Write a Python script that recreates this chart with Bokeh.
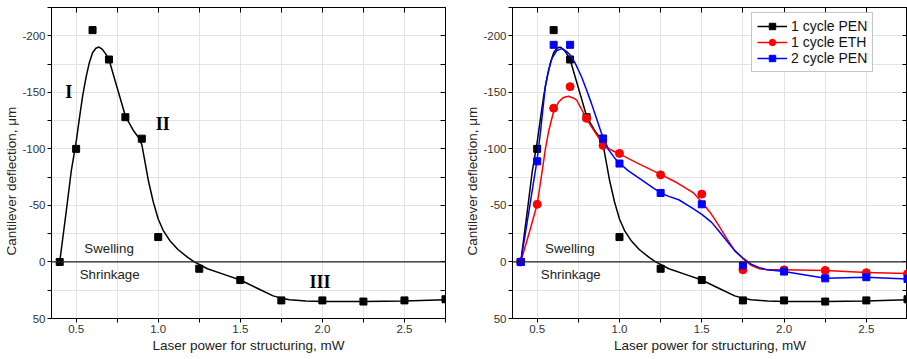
from bokeh.plotting import figure
from bokeh.layouts import row
from bokeh.models import (Range1d, LinearAxis, FixedTicker, PrintfTickFormatter,
                          CustomJSTickFormatter, Span, Legend, LegendItem, Label, Title)
from bokeh.embed import file_html
from bokeh.resources import INLINE

# ---------------- data ----------------
power = [0.4, 0.5, 0.6, 0.7, 0.8, 0.9, 1.0, 1.25, 1.5, 1.75, 2.0, 2.25, 2.5, 2.75]
pen1 = [0, -100, -205, -179, -128, -109, -22, 6, 16, 34, 34, 35, 34, 33]

eth1_x = [0.4, 0.5, 0.6, 0.7, 0.8, 0.9, 1.0, 1.25, 1.5, 1.75, 2.0, 2.25, 2.5, 2.75]
eth1 = [0, -51, -136, -155, -127, -103, -96, -77, -60, 7, 7, 7.5, 9.5, 10.5]

pen2_x = [0.4, 0.5, 0.6, 0.7, 0.9, 1.0, 1.25, 1.5, 1.75, 2.0, 2.25, 2.5, 2.75]
pen2 = [0, -89, -192, -192, -109, -87, -61, -51, 3, 8.5, 14.5, 13.5, 15]

# fitted (smoothed) curves
fit_pen1_x = [0.40, 0.44, 0.47, 0.50, 0.52, 0.54, 0.56, 0.58, 0.60, 0.62, 0.64,
              0.66, 0.68, 0.70, 0.75, 0.80, 0.85, 0.88, 0.90, 0.92, 0.94, 0.97,
              1.00, 1.03, 1.07, 1.12, 1.18, 1.22, 1.30, 1.40, 1.50, 1.60, 1.70,
              1.75, 1.80, 1.90, 2.00, 2.25, 2.50, 2.75]
fit_pen1_y = [0, -45, -80, -106, -127, -147, -163, -176, -185, -189, -190,
              -188, -184, -179, -154, -129, -116, -110, -104, -88, -72, -53,
              -38, -28, -19, -11, -4, 0, 6, 11, 16, 23, 30,
              32, 33.5, 34.5, 35, 35, 34.5, 33.5]

fit_eth1_x = [0.40, 0.45, 0.50, 0.53, 0.55, 0.57, 0.60, 0.63, 0.66, 0.69, 0.72,
              0.74, 0.77, 0.80, 0.85, 0.90, 0.95, 1.00, 1.10, 1.20, 1.25, 1.35,
              1.45, 1.50, 1.55, 1.60, 1.65, 1.70, 1.75, 1.80, 1.85, 1.90, 2.00,
              2.25, 2.50, 2.75]
fit_eth1_y = [0, -25, -51, -80, -100, -116, -133, -141.5, -145.5, -146.5, -145,
              -143, -135, -126, -115, -104, -99, -95.5, -88, -81, -77.5, -70,
              -61, -53, -44, -33, -21, -10, -3, 3, 6, 7, 7,
              7.6, 9.4, 10.3]

fit_pen2_x = [0.40, 0.45, 0.50, 0.52, 0.55, 0.57, 0.59, 0.62, 0.65, 0.68, 0.70,
              0.73, 0.77, 0.80, 0.83, 0.86, 0.89, 0.93, 0.97, 1.00, 1.05, 1.11,
              1.20, 1.25, 1.30, 1.36, 1.45, 1.50, 1.56, 1.60, 1.65, 1.70, 1.75,
              1.80, 1.85, 1.90, 2.00, 2.25, 2.50, 2.75]
fit_pen2_y = [0, -45, -91, -115, -156, -170, -180, -187, -188.6, -186, -183,
              -176, -163.5, -152, -140, -127, -114, -100, -92, -87.5, -81, -75,
              -66, -61, -58, -55, -47, -42, -35, -28, -19, -10, -3.5,
              2, 5, 7, 8.5, 14.4, 13.5, 15]

x_major = [0.5, 1.0, 1.5, 2.0, 2.5]
x_minor = [0.75, 1.25, 1.75, 2.25, 2.75]
y_major = [-200, -150, -100, -50, 0, 50]
y_minor = [-225, -175, -125, -75, -25, 25]

FONT = "Liberation Sans"
SERIF = "Liberation Serif"


def make_fig(width, mb_left, mb_right):
    p = figure(width=width, height=359,
               x_range=Range1d(0.35, 2.75), y_range=Range1d(50, -225),
               output_backend="svg", toolbar_location=None,
               min_border_left=mb_left, min_border_right=mb_right,
               min_border_top=7, min_border_bottom=41)
    p.outline_line_color = "black"
    p.outline_line_width = 1
    p.background_fill_color = "white"
    p.border_fill_color = "white"

    xt = FixedTicker(ticks=x_major, minor_ticks=x_minor)
    yt = FixedTicker(ticks=y_major, minor_ticks=y_minor)

    xa = p.xaxis[0]
    xa.ticker = xt
    xa.formatter = PrintfTickFormatter(format="%.1f")
    xa.axis_label = "Laser power for structuring, mW"
    ya = p.yaxis[0]
    ya.ticker = yt
    ya.formatter = PrintfTickFormatter(format="%d")

    for ax in (xa, ya):
        ax.axis_line_color = "black"
        ax.major_tick_line_color = "black"
        ax.minor_tick_line_color = "black"
        ax.major_tick_in = 0
        ax.major_tick_out = 4
        ax.minor_tick_in = 0
        ax.minor_tick_out = 4
        ax.major_label_text_font = FONT
        ax.major_label_text_font_size = "11.5px"
        ax.major_label_text_color = "#333333"
        ax.major_label_standoff = 2
        ax.axis_label_text_font = FONT
        ax.axis_label_text_font_size = "13.5px"
        ax.axis_label_text_font_style = "normal"
        ax.axis_label_text_color = "#222222"
        ax.axis_label_standoff = 2

    # y-axis title, sitting a little below the frame centre as in the reference
    ytitle = Title(text="Cantilever deflection, μm", align="left", offset=63,
                   text_font=FONT, text_font_size="13.5px", text_font_style="normal",
                   text_color="#222222", standoff=2)
    p.add_layout(ytitle, "left")

    # mirrored axes (ticks inside, no labels)
    top = LinearAxis(ticker=FixedTicker(ticks=x_major, minor_ticks=x_minor),
                     formatter=CustomJSTickFormatter(code="return '';"))
    right = LinearAxis(ticker=FixedTicker(ticks=y_major, minor_ticks=y_minor),
                       formatter=CustomJSTickFormatter(code="return '';"))
    for ax in (top, right):
        ax.axis_line_color = "black"
        ax.major_tick_in = 5
        ax.major_tick_out = 0
        ax.minor_tick_in = 5
        ax.minor_tick_out = 0
        ax.major_label_standoff = 0
        ax.major_label_text_font_size = "1px"
    p.add_layout(top, "above")
    p.add_layout(right, "right")

    for g in (p.xgrid[0], p.ygrid[0]):
        g.grid_line_color = "#e3e3e3"
        g.minor_grid_line_color = "#e3e3e3"
        g.grid_line_width = 1
        g.minor_grid_line_width = 1
    p.xgrid[0].ticker = xt
    p.ygrid[0].ticker = yt

    p.add_layout(Span(location=0, dimension="width", line_color="#222222", line_width=1.2))
    return p


def add_text(p, x, y, text, size, font=FONT, style="normal", align="left", color="#222222"):
    p.add_layout(Label(x=x, y=y, text=text, text_font=font, text_font_size=size,
                       text_font_style=style, text_align=align, text_baseline="middle",
                       text_color=color))


# ---------------- left panel ----------------
p1 = make_fig(460, 49, 15)
p1.line(fit_pen1_x, fit_pen1_y, line_color="black", line_width=1.5)
p1.scatter(power, pen1, marker="square", size=7, fill_color="black", line_color="black")
add_text(p1, 0.55, -11.5, "Swelling", "13.3px")
add_text(p1, 0.522, 11, "Shrinkage", "13.3px")
add_text(p1, 0.455, -150, "I", "18px", SERIF, "bold", "center", "black")
add_text(p1, 1.028, -122, "II", "18px", SERIF, "bold", "center", "black")
add_text(p1, 1.986, 17.5, "III", "18px", SERIF, "bold", "center", "black")

# ---------------- right panel ----------------
p2 = make_fig(447, 52, 0)
l_k = p2.line(fit_pen1_x, fit_pen1_y, line_color="black", line_width=1.5)
s_k = p2.scatter(power, pen1, marker="square", size=7, fill_color="black", line_color="black")
l_r = p2.line(fit_eth1_x, fit_eth1_y, line_color="#ff0000", line_width=1.5)
s_r = p2.scatter(eth1_x, eth1, marker="circle", size=8, fill_color="#ff0000", line_color="#ff0000")
l_b = p2.line(fit_pen2_x, fit_pen2_y, line_color="#0000ff", line_width=1.5)
s_b = p2.scatter(pen2_x, pen2, marker="square", size=7, fill_color="#0000ff", line_color="#0000ff")
add_text(p2, 0.548, -11.5, "Swelling", "13.3px")
add_text(p2, 0.522, 11, "Shrinkage", "13.3px")

legend = Legend(items=[
    LegendItem(label="1 cycle PEN", renderers=[l_k, s_k]),
    LegendItem(label="1 cycle ETH", renderers=[l_r, s_r]),
    LegendItem(label="2 cycle PEN", renderers=[l_b, s_b]),
], location=(239, 246))
legend.label_text_font = FONT
legend.label_text_font_size = "14px"
legend.label_text_color = "#111111"
legend.glyph_width = 30
legend.glyph_height = 16
legend.label_height = 16
legend.label_standoff = 4
legend.spacing = 0
legend.padding = 5
legend.border_line_color = "#8c8c8c"
legend.border_line_width = 1
legend.background_fill_color = "white"
legend.background_fill_alpha = 1
p2.add_layout(legend)

layout = row(p1, p2)
open("out.html", "w").write(file_html(layout, INLINE))
